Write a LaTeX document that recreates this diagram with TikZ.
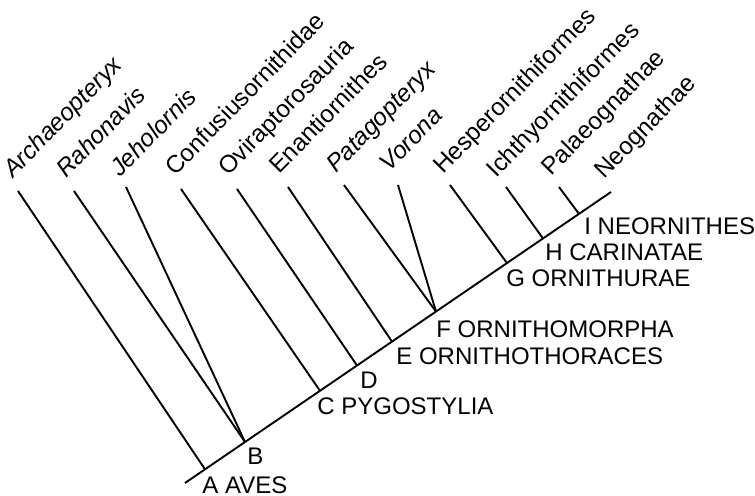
\documentclass[tikz,border=0pt]{standalone}
\usepackage{fontspec}
\setmainfont{Liberation Sans}
\usetikzlibrary{positioning,calc}

\begin{document}
\begin{tikzpicture}[
    x=0.5pt, y=-0.5pt,
    branch/.style={
      line width=0.95pt,
      color=black
    },
    taxon/.style={
      anchor=base west,
      rotate=45.5,
      inner sep=0pt,
      font=\fontsize{12.2}{14}\selectfont
    },
    clade/.style={
      anchor=north west,
      inner sep=0pt,
      font=\fontsize{12}{14}\selectfont
    }
  ]
  \useasboundingbox (0,0) rectangle (755,496);

  % Main stem, root to crown
  \coordinate (root) at (185,483);
  \coordinate (neog) at (611,192);
  \coordinate (A) at (205,469.3);
  \coordinate (B) at (245,442);
  \coordinate (C) at (320,390.8);
  \coordinate (D) at (357,365.5);
  \coordinate (E) at (392,341.6);
  \coordinate (F) at (436,311.6);
  \coordinate (G) at (507,263.1);
  \coordinate (H) at (543,238.5);
  \coordinate (I) at (579,213.9);

  % Branch tips
  \coordinate (arch)  at (18,191);
  \coordinate (rahon) at (74,191);
  \coordinate (jehol) at (126,187);
  \coordinate (confu) at (181,189);
  \coordinate (ovira) at (237,189);
  \coordinate (enant) at (288,187);
  \coordinate (patag) at (344,185);
  \coordinate (voron) at (398,185);
  \coordinate (hespe) at (450,185);
  \coordinate (ichth) at (506,187);
  \coordinate (palae) at (559,187);

  % Taxon names
  \node[taxon] (archL)  at ([shift={(-5,-12)}]arch)  {\itshape Archaeopteryx};
  \node[taxon] (rahonL) at ([shift={(-8,-12)}]rahon) {\itshape Rahonavis};
  \node[taxon] (jeholL) at ([shift={(-6,-9)}]jehol)  {\itshape Jeholornis};
  \node[taxon] (confuL) at ([shift={(-6,-12)}]confu) {Confusiusornithidae};
  \node[taxon] (oviraL) at ([shift={(-9,-12)}]ovira) {Oviraptorosauria};
  \node[taxon] (enantL) at ([shift={(-9,-12)}]enant) {Enantiornithes};
  \node[taxon] (patagL) at ([shift={(-8,-11)}]patag) {\itshape Patagopteryx};
  \node[taxon] (voronL) at ([shift={(-9,-12)}]voron) {\itshape Vorona};
  \node[taxon] (hespeL) at ([shift={(-7,-10)}]hespe) {Hesperornithiformes};
  \node[taxon] (ichthL) at ([shift={(-10,-8)}]ichth) {Ichthyornithiformes};
  \node[taxon] (palaeL) at ([shift={(-8,-10)}]palae) {Palaeognathae};
  \node[taxon] (neogL)  at ([shift={(-7,-12)}]neog)  {Neognathae};

  % Branches
  \draw[branch] (root) -- (neog);
  \draw[branch] (arch)  -- (A);
  \draw[branch] (rahon) -- (B);
  \draw[branch] (jehol) -- (B);
  \draw[branch] (confu) -- (C);
  \draw[branch] (ovira) -- (D);
  \draw[branch] (enant) -- (E);
  \draw[branch] (patag) -- (F);
  \draw[branch] (voron) -- (F);
  \draw[branch] (hespe) -- (G);
  \draw[branch] (ichth) -- (H);
  \draw[branch] (palae) -- (I);

  % Clade labels
  \node[clade] (aL) at (202,476) {A AVES};
  \node[clade] (bL) at (247,448) {B};
  \node[clade] (cL) at (317,397) {C PYGOSTYLIA};
  \node[clade] (dL) at (360,372) {D};
  \node[clade] (eL) at (396,347) {E ORNITHOTHORACES};
  \node[clade] (fL) at (436,320) {F ORNITHOMORPHA};
  \node[clade] (gL) at (506,269) {G ORNITHURAE};
  \node[clade] (hL) at (545,243) {H CARINATAE};
  \node[clade] (iL) at (584,217) {I NEORNITHES};

\end{tikzpicture}
\end{document}
